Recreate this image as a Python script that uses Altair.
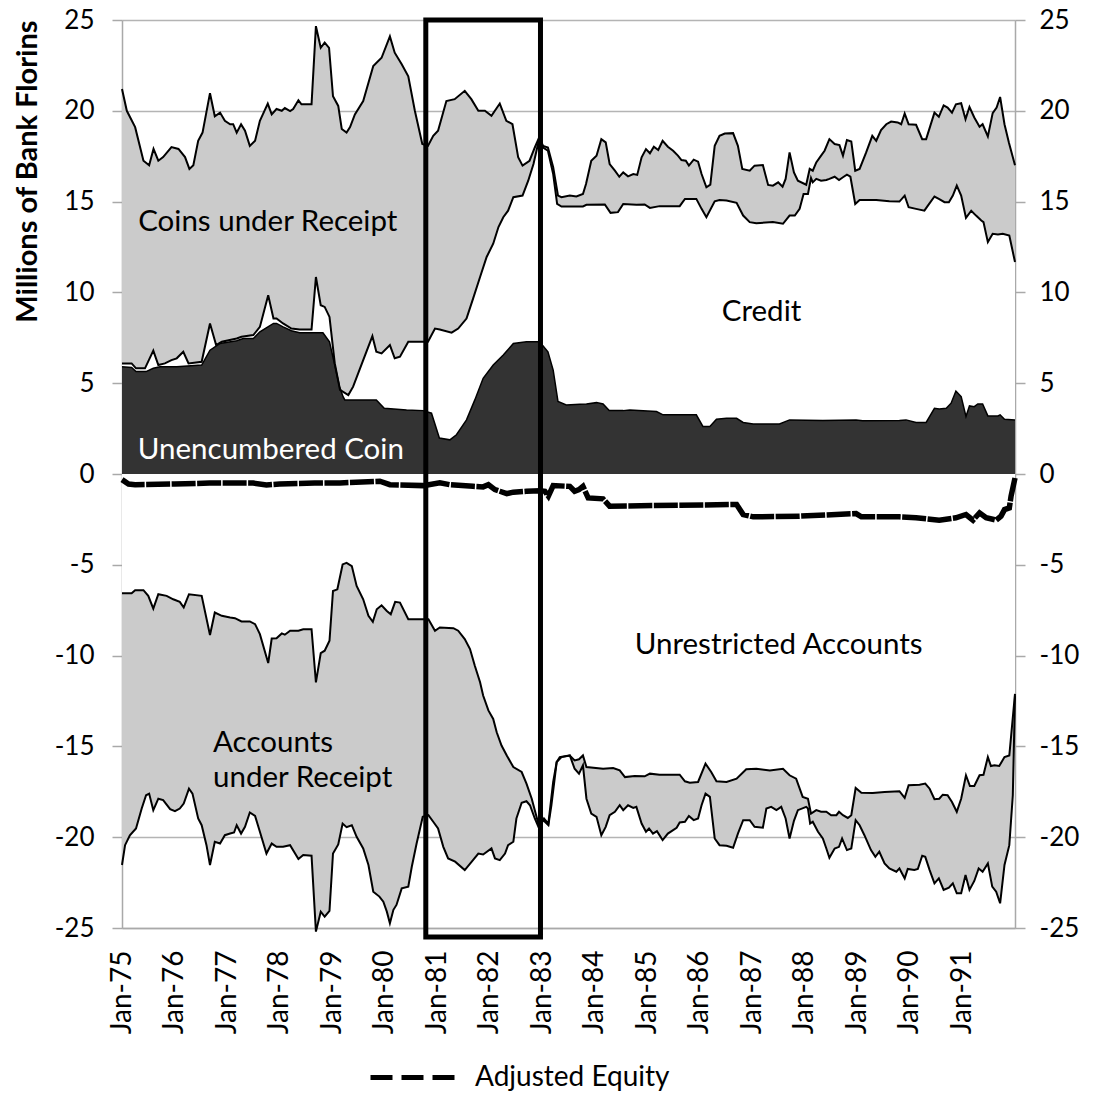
import altair as alt
import pandas as pd

# x = months since Jan-75, y = millions of bank florins
total_top = [(0,21.2),(1.1,20.0),(3,19.1),(4.9,17.25),(6.2,17.0),(7.2,17.9),(8.3,17.25),(9.4,17.45),(11.3,18.0),(12.9,17.9),(14.4,17.45),(15.4,16.8),(16.3,17.0),(17.4,18.35),(18.4,18.8),(20.1,20.97),(21.2,19.7),(22.4,19.9),(23.5,19.45),(24.7,19.26),(25.4,19.26),(26.2,18.8),(27.2,19.26),(28.1,18.9),(29.2,18.07),(30.4,18.35),(31.5,19.45),(33.3,20.4),(34.2,19.8),(35.3,20.1),(36.5,20.0),(37.2,20.15),(38.4,19.98),(39.1,20.1),(40.3,20.58),(41.0,20.36),(43.3,20.36),(44.3,24.66),(45.4,23.47),(46.3,23.75),(47.3,23.47),(48.2,20.8),(49.4,20.27),(50.2,19.0),(51.3,18.8),(52.1,19.1),(53.2,19.8),(55.1,20.54),(57.4,22.47),(59.3,22.92),(61.2,24.1),(62.3,23.2),(63.9,22.56),(65.4,21.9),(66.9,20.0),(68.6,18.17),(69.9,18.07),(71.1,18.62),(72.2,18.9),(74.1,20.54),(76.0,20.64),(78.3,21.1),(79.8,20.64),(81.4,20.0),(82.9,20.0),(84.4,19.72),(86.3,20.4),(87.8,19.45),(89.2,19.26),(90.5,17.44),(91.5,16.98),(93.1,17.25),(94.3,17.98),(95.3,18.53),(96.2,18.07),(97.3,17.98),(98.5,16.9),(99.6,15.33),(100.4,15.24),(102.3,15.33),(103.8,15.28),(105.3,15.42),(106.0,15.97),(107.2,17.25),(108.4,17.53),(109.5,18.44),(110.5,18.26),(111.4,17.07),(112.6,16.7),(113.6,16.37),(114.5,16.61),(115.6,16.39),(116.8,16.52),(117.7,16.47),(118.7,17.44),(119.7,17.89),(120.6,17.66),(121.5,18.02),(122.5,17.84),(123.5,18.35),(124.7,18.02),(125.9,17.8),(127.0,17.53),(127.8,17.29),(128.8,17.25),(129.5,16.98),(130.6,17.31),(131.6,17.2),(132.4,16.52),(133.5,15.79),(134.4,15.93),(135.4,18.07),(136.5,18.62),(137.7,18.75),(139.6,18.77),(140.7,18.07),(141.7,16.8),(143.4,16.7),(144.5,16.98),(146.4,17.01),(147.6,15.92),(148.7,15.88),(149.9,16.06),(150.9,15.82),(151.6,16.25),(152.5,17.71),(153.5,16.6),(154.4,16.15),(156.3,15.93),(157.1,16.8),(157.8,16.7),(158.6,17.16),(159.7,17.53),(160.5,17.8),(161.6,18.44),(162.8,18.17),(163.9,18.11),(164.7,17.53),(165.6,18.39),(166.6,18.31),(167.5,16.7),(168.5,16.8),(170.0,17.71),(171.4,18.62),(172.3,18.35),(173.4,18.94),(174.6,19.26),(175.7,19.41),(177.2,19.36),(178.0,19.26),(178.8,19.85),(179.7,19.26),(181.4,19.23),(182.8,18.44),(183.7,18.44),(185.6,19.9),(186.6,19.67),(187.7,20.3),(188.6,20.18),(189.6,19.9),(190.5,20.36),(191.7,20.42),(192.7,19.54),(193.6,20.21),(194.7,19.63),(195.9,19.12),(196.6,19.26),(197.8,18.59),(198.9,19.87),(199.8,20.18),(200.6,20.76),(201.6,19.26),(202.6,18.26),(204,17.0)]

credit_top = [(0,6.09),(2.2,6.09),(3.2,5.82),(5.25,5.82),(7.15,6.79),(8.3,6.0),(9.8,6.09),(11.3,6.27),(12.5,6.37),(14.0,6.73),(15.2,6.09),(18.2,6.18),(20.1,8.29),(21.5,7.1),(22.8,7.28),(26.2,7.46),(27.3,7.56),(30.0,7.65),(31.5,8.1),(33.4,9.84),(34.6,8.56),(35.3,8.56),(36.8,8.29),(38.7,8.01),(40.6,7.96),(43.3,7.96),(44.3,10.85),(45.4,9.29),(46.3,9.2),(47.4,8.65),(48.6,6.1),(49.8,4.63),(51.7,4.35),(52.8,4.81),(55.1,6.27),(57.2,7.59),(58.1,6.73),(59.3,6.64),(61.2,7.1),(62.3,6.37),(63.5,6.46),(65.4,7.28),(69.9,7.28),(71.5,8.01),(72.6,7.96),(75.3,7.78),(76.8,8.01),(78.7,8.56),(80.2,9.66),(81.8,10.85),(83.3,11.95),(84.8,12.68),(86.0,13.6),(87.1,14.14),(88.2,14.5),(89.4,15.24),(91.5,15.33),(92.8,16.15),(94.0,17.07),(95.3,18.44),(96.2,17.98),(97.3,17.8),(98.5,16.52),(99.4,14.87),(100.4,14.73),(103.0,14.73),(105.3,14.73),(106.1,14.82),(110.3,14.84),(111.6,14.38),(113.3,14.42),(114.5,14.87),(117.5,14.82),(119.4,14.84),(120.6,14.65),(122.8,14.75),(127.4,14.75),(128.6,15.15),(131.2,15.15),(132.4,14.6),(133.5,14.14),(135.4,15.02),(136.5,15.09),(138.1,15.06),(140.4,14.93),(141.9,14.23),(143.4,13.87),(144.9,13.81),(148.7,13.87),(151.0,13.78),(152.5,14.23),(153.7,14.23),(154.8,14.6),(155.7,15.42),(156.7,15.42),(157.4,16.3),(157.8,16.06),(158.6,16.25),(159.7,16.15),(160.9,16.19),(161.6,16.25),(162.8,16.37),(163.8,16.19),(164.7,16.34),(165.6,16.48),(166.4,16.37),(167.5,14.87),(168.5,15.09),(172.3,15.09),(175.3,15.02),(177.6,15.0),(178.8,15.33),(179.7,14.69),(181.4,14.6),(183.3,14.5),(184.1,14.78),(185.6,15.28),(186.6,15.15),(187.9,14.97),(188.9,14.97),(189.8,15.33),(190.7,15.88),(191.7,15.33),(192.8,14.1),(194.0,14.5),(195.1,14.23),(196.3,13.96),(196.8,13.87),(197.8,12.77),(198.9,13.23),(200.1,13.19),(201.2,13.23),(202.7,13.13),(204,11.67)]

coin_top = [(0,5.91),(2.2,5.87),(3.2,5.64),(5.5,5.64),(7.15,5.82),(8.7,5.91),(12.5,5.91),(18.2,6.0),(20.1,6.82),(22.4,7.19),(26.2,7.34),(27.7,7.46),(30.0,7.46),(31.5,7.83),(34.6,8.29),(35.3,8.29),(36.8,8.1),(38.7,7.89),(40.6,7.78),(45.9,7.78),(47.4,7.28),(48.6,6.0),(49.7,4.81),(50.5,4.26),(50.9,4.08),(58.1,4.08),(59.9,3.62),(65.0,3.53),(68.8,3.49),(70.7,3.35),(72.5,1.98),(74.9,1.88),(76.4,2.16),(78.7,2.98),(80.6,4.08),(82.5,5.27),(84.8,6.0),(87.1,6.55),(89.4,7.19),(92.4,7.28),(95.4,7.28),(97.3,6.73),(98.5,5.72),(99.6,3.99),(101.5,3.8),(104.6,3.84),(106.1,3.86),(108.4,3.93),(109.9,3.86),(111.3,3.49),(114.5,3.49),(116.0,3.53),(122.1,3.44),(123.6,3.26),(131.2,3.26),(132.7,2.62),(134.3,2.62),(135.8,3.02),(138.1,3.07),(140.4,3.07),(141.9,2.84),(144.2,2.76),(150.2,2.76),(152.5,2.98),(160.1,2.95),(167.7,2.98),(169.2,2.93),(177.6,2.95),(179.1,2.98),(181.4,2.84),(183.7,2.84),(185.6,3.62),(186.7,3.58),(188.3,3.62),(189.4,3.9),(190.5,4.57),(191.7,4.26),(192.8,3.17),(193.6,3.75),(194.7,3.71),(195.5,3.86),(196.6,3.86),(197.8,3.2),(200.1,3.2),(200.6,3.26),(201.6,3.02),(204,2.98)]

equity = [(0,-0.31),(1.5,-0.55),(3,-0.59),(12,-0.55),(20,-0.5),(30,-0.5),(33,-0.6),(36,-0.55),(44,-0.5),(49.8,-0.49),(58.9,-0.4),(61.2,-0.59),(68.8,-0.64),(72.6,-0.49),(74.9,-0.59),(80.2,-0.68),(82.5,-0.71),(83.7,-0.59),(85.2,-0.86),(86.3,-0.95),(87.9,-1.08),(89.4,-1.0),(92.4,-0.95),(95.5,-0.92),(96.6,-0.95),(97.4,-1.22),(98.5,-0.64),(102.3,-0.68),(103.4,-0.95),(104.4,-0.86),(105.3,-0.68),(106.5,-1.32),(109.9,-1.37),(111.4,-1.77),(140.4,-1.68),(141.9,-2.23),(144.2,-2.36),(154.8,-2.32),(167.7,-2.18),(168.9,-2.36),(177.6,-2.36),(181.4,-2.41),(186.7,-2.54),(190.5,-2.41),(192.8,-2.23),(194.4,-2.54),(195.9,-2.14),(197.4,-2.41),(199.7,-2.54),(200.8,-2.32),(201.6,-1.96),(202.7,-1.87),(203.1,-1.22),(204,-0.22)]

unrestricted_bottom = [(0,-6.57),(2.2,-6.57),(3.0,-6.4),(4.9,-6.4),(6.0,-6.71),(7.15,-7.41),(8.3,-6.62),(10.2,-6.71),(11.7,-6.9),(13.2,-7.04),(14.1,-7.35),(15.3,-6.62),(18.2,-6.71),(20.1,-8.87),(21.2,-7.63),(22.8,-7.81),(24.7,-7.9),(25.8,-7.94),(27.3,-8.12),(29.2,-8.12),(30.4,-8.27),(31.5,-8.82),(33.4,-10.41),(34.2,-9.06),(35.3,-9.04),(36.5,-8.78),(37.2,-8.85),(38.4,-8.63),(40.3,-8.63),(41.4,-8.55),(43.3,-8.55),(44.3,-11.47),(45.4,-9.86),(46.3,-9.73),(47.4,-9.18),(48.2,-6.44),(49.2,-6.35),(50.4,-4.98),(51.3,-4.89),(52.5,-5.07),(53.6,-6.16),(55.1,-6.9),(56.3,-7.81),(57.3,-8.14),(58.2,-7.45),(59.3,-7.23),(60.5,-7.54),(61.4,-7.72),(62.4,-7.04),(63.5,-7.08),(65.4,-8.0),(70.0,-8.0),(71.5,-8.63),(72.6,-8.45),(75.7,-8.49),(76.8,-8.63),(78.3,-9.09),(79.5,-9.64),(80.6,-10.56),(81.8,-11.47),(82.5,-12.2),(83.7,-13.02),(84.8,-13.49),(85.6,-14.22),(86.7,-14.95),(87.9,-15.5),(89.4,-16.14),(91.3,-16.41),(92.4,-17.05),(93.6,-17.88),(94.7,-18.88),(95.3,-19.43),(96.4,-18.97),(97.4,-19.25),(98.5,-16.96),(99.3,-15.86),(100.4,-15.59),(102.3,-15.5),(103.4,-15.77),(104.4,-15.71),(105.3,-15.5),(106.1,-16.14),(109.9,-16.23),(112.2,-16.19),(113.7,-16.32),(114.9,-16.69),(117.1,-16.63),(119.4,-16.65),(120.6,-16.5),(122.8,-16.56),(127.4,-16.56),(128.6,-16.92),(129.7,-17.0),(131.6,-16.96),(133.3,-15.95),(134.6,-16.41),(135.8,-16.92),(138.1,-16.96),(140.4,-16.78),(142.6,-16.26),(144.9,-16.23),(148.0,-16.32),(151.0,-16.23),(152.5,-16.59),(154.0,-16.78),(155.5,-17.78),(156.7,-17.88),(157.4,-18.7),(158.6,-18.51),(159.7,-18.6),(160.9,-18.6),(162.0,-18.79),(163.2,-18.79),(163.8,-18.6),(164.7,-18.79),(165.8,-18.94),(166.6,-18.79),(167.6,-17.29),(168.9,-17.55),(171.5,-17.56),(174.2,-17.51),(177.6,-17.47),(178.8,-17.84),(179.7,-17.14),(182.2,-17.11),(183.5,-17.05),(184.5,-17.33),(185.6,-17.91),(186.7,-17.88),(187.5,-17.66),(188.6,-17.69),(189.6,-18.06),(190.7,-18.6),(191.7,-17.88),(192.8,-16.59),(193.7,-17.18),(194.7,-17.18),(195.9,-16.59),(196.8,-16.56),(197.8,-15.59),(198.5,-16.08),(199.3,-16.04),(200.4,-16.08),(201.6,-15.59),(202.7,-15.5),(204,-12.11)]

total_bottom = [(0,-21.53),(0.7,-20.44),(1.8,-19.89),(3.2,-19.52),(4.5,-18.42),(5.5,-17.69),(6.2,-17.6),(7.15,-18.51),(8.3,-17.88),(9.4,-17.96),(11.0,-18.46),(12.1,-18.57),(13.2,-18.42),(14.1,-18.15),(15.3,-17.33),(16.1,-17.6),(17.4,-18.97),(18.2,-19.34),(19.3,-20.44),(20.1,-21.53),(21.2,-20.25),(22.4,-20.35),(23.5,-19.89),(24.7,-19.8),(25.6,-19.74),(26.2,-19.34),(27.2,-19.8),(28.1,-19.43),(29.2,-18.64),(30.4,-18.83),(31.5,-19.7),(33.0,-20.9),(34.2,-20.35),(35.3,-20.53),(36.8,-20.53),(38.4,-20.44),(40.3,-21.2),(41.4,-20.98),(43.3,-21.02),(44.3,-25.2),(45.4,-24.1),(46.3,-24.37),(47.4,-24.06),(48.2,-20.9),(49.4,-20.4),(50.4,-19.25),(51.3,-19.45),(52.5,-19.34),(53.6,-19.98),(55.1,-20.62),(56.3,-21.53),(57.4,-23.0),(58.8,-23.27),(59.7,-23.55),(60.5,-24.1),(61.2,-24.74),(62.0,-24.0),(62.7,-23.73),(63.9,-22.82),(65.4,-22.72),(66.2,-21.63),(67.3,-20.35),(68.7,-18.88),(70.0,-18.79),(71.1,-19.15),(72.2,-19.52),(73.4,-20.53),(74.5,-21.17),(76.1,-21.35),(78.3,-21.81),(79.9,-21.35),(81.4,-20.9),(82.5,-20.95),(84.4,-20.62),(85.2,-21.17),(86.3,-21.26),(87.5,-20.9),(88.2,-20.44),(89.4,-20.25),(90.1,-18.97),(91.3,-18.1),(92.4,-18.02),(93.2,-18.24),(94.3,-18.97),(95.3,-19.52),(96.2,-19.06),(97.4,-19.34),(98.1,-18.24),(99.3,-15.86),(100.0,-15.59),(102.3,-15.5),(103.4,-16.23),(104.4,-16.5),(105.3,-16.04),(106.1,-17.88),(107.2,-18.7),(108.4,-18.88),(109.5,-19.89),(110.5,-19.43),(111.4,-18.79),(112.6,-18.6),(113.7,-18.24),(114.5,-18.51),(115.6,-18.24),(116.8,-18.39),(117.5,-18.33),(118.7,-19.25),(119.7,-19.7),(120.4,-19.52),(121.3,-19.8),(122.2,-19.67),(123.5,-20.16),(124.7,-19.8),(126.7,-19.48),(127.4,-19.19),(128.6,-19.15),(129.5,-18.83),(130.6,-19.06),(131.6,-18.97),(132.4,-18.24),(133.3,-17.6),(134.3,-17.78),(135.4,-20.07),(136.5,-20.44),(138.1,-20.47),(139.6,-20.58),(140.7,-19.8),(141.9,-19.06),(143.4,-19.06),(144.5,-19.43),(146.4,-19.48),(147.2,-18.42),(148.3,-18.33),(149.5,-18.51),(150.6,-18.33),(151.6,-18.97),(152.5,-20.07),(153.5,-19.1),(154.4,-18.51),(156.3,-18.33),(156.7,-18.42),(157.2,-19.25),(157.8,-19.15),(159.0,-19.7),(160.1,-20.07),(160.9,-20.62),(161.6,-21.13),(162.8,-20.62),(163.8,-20.53),(164.5,-20.07),(165.6,-20.71),(166.6,-20.62),(167.6,-19.06),(168.5,-19.34),(169.6,-19.89),(171.1,-20.71),(172.1,-21.08),(173.0,-20.8),(174.2,-21.44),(175.3,-21.72),(176.9,-21.9),(177.6,-21.72),(178.8,-22.27),(179.5,-21.75),(181.0,-21.81),(181.8,-21.75),(182.8,-21.02),(183.5,-21.08),(184.5,-21.81),(185.6,-22.54),(186.6,-22.27),(187.7,-22.9),(188.9,-22.78),(189.8,-22.54),(190.7,-23.09),(191.7,-23.09),(192.7,-22.08),(193.6,-22.9),(194.7,-22.41),(195.7,-21.72),(196.6,-21.9),(197.8,-21.44),(198.8,-22.72),(199.7,-23.0),(200.6,-23.64),(201.6,-21.53),(202.7,-20.44),(203.5,-17.69),(204,-12.2)]

# highlighted period (months since Jan-75) and its vertical span
box_months = [69.4, 95.6]
box_values = [25.0, -25.5]

# region labels: text, month, value
black_labels = [("Coins under Receipt", 33.3, 13.9),
                ("Credit", 146.1, 8.9),
                ("Unrestricted Accounts", 150.0, -9.4)]
white_labels = [("Unencumbered Coin", 34.0, 1.3)]
left_labels = [(["Accounts", "under Receipt"], 20.8, -14.8)]

y_ticks = list(range(-25, 30, 5))
x_ticks = list(range(0, 204, 12))
FONT = "Lato"
GRAY = "#cbcbcb"
AX = "#a9a9a9"


def frame(pairs):
    return pd.DataFrame(pairs, columns=["m", "v"])


xs = alt.Scale(domain=[0, 204], nice=False, zero=False)
ys = alt.Scale(domain=[-25, 25], nice=False, zero=False)

left_axis = alt.Axis(orient="left", values=y_ticks, labelExpr="'' + datum.value",
                     grid=True, gridColor="#b4b4b4", gridWidth=1.5,
                     domainColor=AX, domainWidth=1.5, tickColor=AX, tickWidth=1.5, tickSize=10,
                     labelFont=FONT, labelFontSize=26, labelColor="black", labelPadding=18,
                     title="Millions of Bank Florins", titleFont=FONT, titleFontSize=29,
                     titleFontWeight="bold", titleColor="black", titleAnchor="end", titlePadding=12)
right_axis = alt.Axis(orient="right", values=y_ticks, labelExpr="'' + datum.value", grid=False,
                      domainColor=AX, domainWidth=1.5, tickColor=AX, tickWidth=1.5, tickSize=10,
                      labelFont=FONT, labelFontSize=26, labelColor="black", labelPadding=14, title=None)
x_axis = alt.Axis(values=x_ticks, labelExpr="'Jan-' + (75 + datum.value / 12)", labelAngle=270,
                  ticks=False, grid=False, domainColor=AX, domainWidth=1.5,
                  labelFont=FONT, labelFontSize=28, labelColor="black", labelPadding=22, title=None)

X = alt.X("m:Q", scale=xs, axis=x_axis)


def area(pairs, color, yaxis=None):
    return alt.Chart(frame(pairs)).mark_area(color=color, opacity=1, interpolate="linear").encode(
        x=X, y=alt.Y("v:Q", scale=ys, axis=yaxis), y2=alt.datum(0),
    )


def outline(pairs, width=2.0):
    return alt.Chart(frame(pairs)).mark_line(color="black", strokeWidth=width).encode(
        x=X, y=alt.Y("v:Q", scale=ys, axis=None),
    )


gray_top = area(total_top, GRAY, yaxis=left_axis)
white_credit = area(credit_top, "white", yaxis=right_axis)
dark_coin = area(coin_top, "#333333")
gray_bottom = area(total_bottom, GRAY)
white_unres = area(unrestricted_bottom, "white")

eq_df = frame(equity)
eq_df["series"] = "Adjusted Equity"
equity_line = alt.Chart(eq_df).mark_line(strokeWidth=5.5, strokeDash=[24, 1.5]).encode(
    x=X,
    y=alt.Y("v:Q", scale=ys, axis=None),
    color=alt.Color("series:N", scale=alt.Scale(domain=["Adjusted Equity"], range=["black"]),
                    legend=alt.Legend(title=None, orient="none", legendX=246, legendY=1010,
                                      symbolType="stroke", symbolStrokeWidth=5, symbolSize=8100,
                                      symbolDash=[22, 9], labelFont=FONT, labelFontSize=28,
                                      labelColor="black", labelOffset=12, labelLimit=500,
                                      padding=0)),
)

box_df = pd.DataFrame({"m1": [box_months[0]], "m2": [box_months[1]],
                       "v1": [box_values[0]], "v2": [box_values[1]]})
box = alt.Chart(box_df).mark_rect(fillOpacity=0, stroke="black", strokeWidth=5).encode(
    x=alt.X("m1:Q", scale=xs, axis=x_axis), x2="m2:Q",
    y=alt.Y("v1:Q", scale=ys, axis=None), y2="v2:Q",
)


def labels(rows, align, color):
    df = pd.DataFrame(rows, columns=["text", "m", "v"])
    return alt.Chart(df).mark_text(font=FONT, fontSize=29.5, align=align, baseline="middle",
                                   lineHeight=35, color=color).encode(
        x=X, y=alt.Y("v:Q", scale=ys, axis=None), text="text",
    )


chart = alt.layer(
    gray_top, white_credit, dark_coin, gray_bottom, white_unres,
    outline(total_top), outline(credit_top), outline(coin_top, 1.5),
    outline(unrestricted_bottom), outline(total_bottom),
    equity_line, box,
    labels(black_labels, "center", "black"),
    labels(white_labels, "center", "white"),
    labels(left_labels, "left", "black"),
).resolve_axis(y="independent").properties(
    width=893, height=908,
    autosize=alt.AutoSizeParams(type="none"),
    padding={"left": 114, "top": 12, "right": 68, "bottom": 166},
).configure_view(stroke=None).configure(background="white")

chart.save("out.html", embed_options={"renderer": "svg", "actions": False})
